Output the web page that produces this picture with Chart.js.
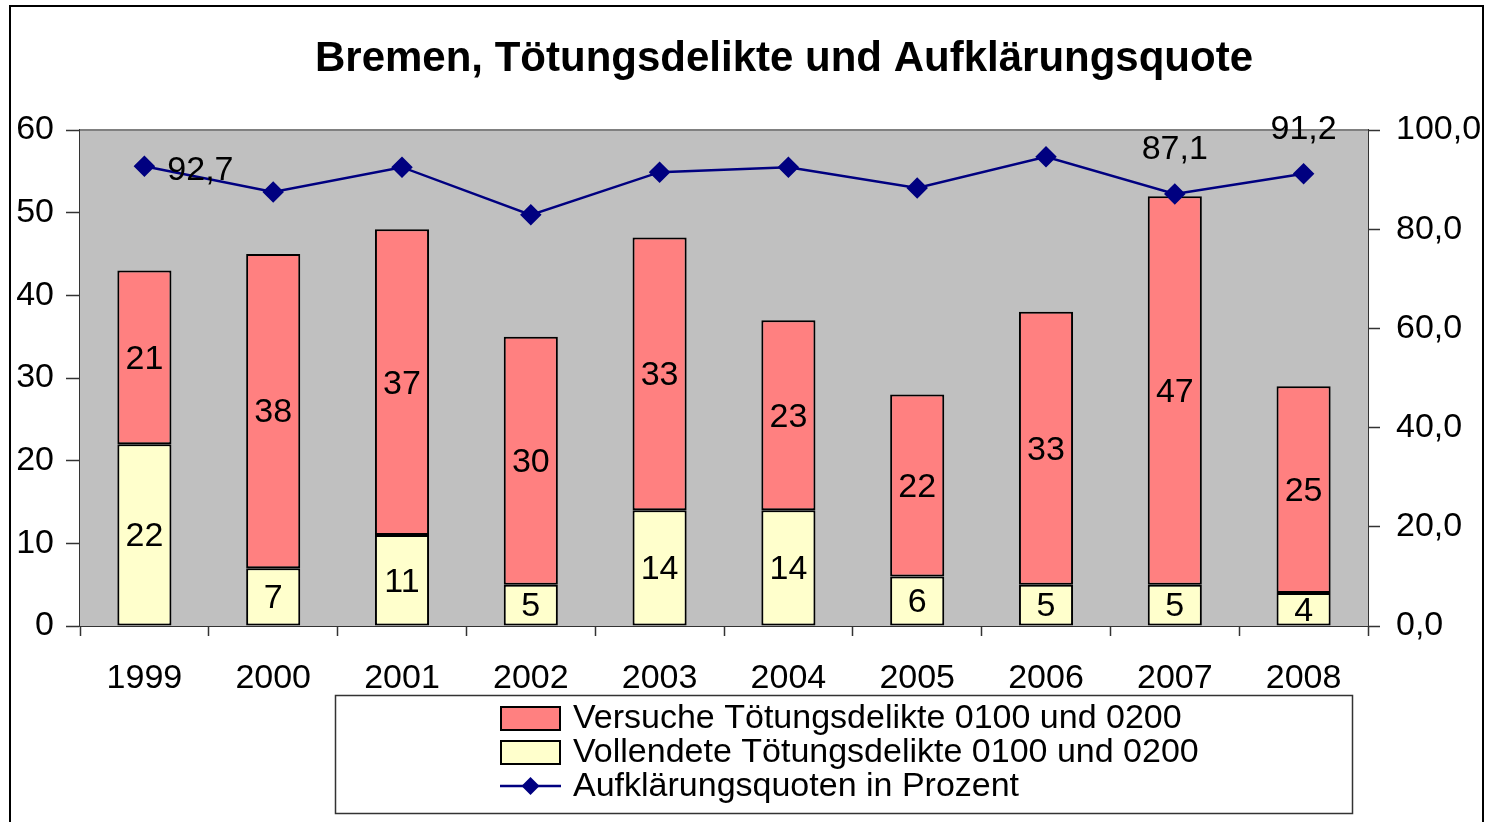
<!DOCTYPE html>
<html>
<head>
<meta charset="utf-8">
<title>Bremen, Tötungsdelikte und Aufklärungsquote</title>
<script src="https://cdn.jsdelivr.net/npm/chart.js@4.4.0/dist/chart.umd.min.js"></script>
<style>
  html, body { margin: 0; padding: 0; background: #fff; }
  #wrap { width: 1490px; height: 822px; }
</style>
</head>
<body>
<div id="wrap"><canvas id="myChart" width="1490" height="822"></canvas></div>
<script>
// Bremen: homicide cases (stacked bars) and clearance rate (line, right axis)

const years = ['1999', '2000', '2001', '2002', '2003', '2004', '2005', '2006', '2007', '2008'];
const vollendete = [22, 7, 11, 5, 14, 14, 6, 5, 5, 4];          // completed
const versuche = [21, 38, 37, 30, 33, 23, 22, 33, 47, 25];      // attempted
const quote = [92.7, 87.5, 92.5, 82.9, 91.5, 92.5, 88.3, 94.6, 87.1, 91.2];
const quoteLabels = ['92,7', '', '', '', '', '', '', '', '87,1', '91,2'];

const FONT = '"Liberation Sans", Arial, sans-serif';

function deComma(v, digits) {
    return v.toFixed(digits).replace('.', ',');
}

// draws grey plot area, frame, title, labels and legend box
const decorations = {
    id: 'decorations',
    beforeDatasetsDraw(chart) {
        const { ctx, chartArea: a } = chart;
        ctx.save();
        ctx.fillStyle = '#C0C0C0';
        ctx.fillRect(a.left, a.top, a.right - a.left, a.bottom - a.top);
        ctx.strokeStyle = '#808080';
        ctx.lineWidth = 2;
        ctx.beginPath();
        ctx.moveTo(a.left, a.top);
        ctx.lineTo(a.right, a.top);
        ctx.stroke();
        ctx.restore();
    },
    afterDraw(chart) {
        const { ctx } = chart;
        ctx.save();

        // outer frame
        ctx.strokeStyle = '#000';
        ctx.lineWidth = 2;
        ctx.beginPath();
        ctx.moveTo(10, 830);
        ctx.lineTo(10, 6);
        ctx.lineTo(1483, 6);
        ctx.lineTo(1483, 830);
        ctx.stroke();

        // title
        ctx.fillStyle = '#000';
        ctx.font = 'bold 42px ' + FONT;
        ctx.textAlign = 'center';
        ctx.textBaseline = 'middle';
        ctx.fillText('Bremen, Tötungsdelikte und Aufklärungsquote', 784, 59);

        // value labels in the bar segments
        ctx.font = '34px ' + FONT;
        [0, 1].forEach(di => {
            const meta = chart.getDatasetMeta(di);
            meta.data.forEach((bar, i) => {
                const mid = (bar.y + bar.base) / 2;
                ctx.fillText(String(chart.data.datasets[di].data[i]), bar.x, mid + 2);
            });
        });

        // selected labels on the line
        const lineMeta = chart.getDatasetMeta(2);
        lineMeta.data.forEach((pt, i) => {
            if (!quoteLabels[i]) return;
            if (i === 0) {
                ctx.fillText(quoteLabels[i], pt.x + 56, pt.y + 4);
            } else {
                ctx.fillText(quoteLabels[i], pt.x, pt.y - 44);
            }
        });

        // legend box
        ctx.strokeStyle = '#333';
        ctx.lineWidth = 1.5;
        ctx.strokeRect(335.5, 695.5, 1017, 118);
        ctx.font = '34px ' + FONT;
        ctx.textAlign = 'left';
        const rows = [718, 752, 786];
        chart.data.datasets.forEach((ds, i) => {
            const y = rows[i];
            if (ds.type === 'line') {
                ctx.strokeStyle = ds.borderColor;
                ctx.lineWidth = 2.5;
                ctx.beginPath();
                ctx.moveTo(500, y);
                ctx.lineTo(561, y);
                ctx.stroke();
                ctx.fillStyle = ds.borderColor;
                ctx.beginPath();
                ctx.moveTo(530.5, y - 9);
                ctx.lineTo(539.5, y);
                ctx.lineTo(530.5, y + 9);
                ctx.lineTo(521.5, y);
                ctx.closePath();
                ctx.fill();
            } else {
                ctx.fillStyle = ds.backgroundColor;
                ctx.fillRect(501, y - 11, 59, 23);
                ctx.strokeStyle = '#000';
                ctx.lineWidth = 2;
                ctx.strokeRect(501, y - 11, 59, 23);
            }
            ctx.fillStyle = '#000';
            ctx.fillText(ds.label, 573, y + 1);
        });
        ctx.restore();
    }
};

const ctx = document.getElementById('myChart');
const myChart = new Chart(ctx, {
    data: {
        labels: years,
        datasets: [{
            type: 'bar',
            label: 'Versuche Tötungsdelikte 0100 und 0200',
            data: versuche,
            backgroundColor: '#FF8080',
            borderColor: '#000',
            borderWidth: 2,
            borderSkipped: false,
            barPercentage: 0.42,
            categoryPercentage: 1,
            stack: 'faelle',
            order: 2
        },
        {
            type: 'bar',
            label: 'Vollendete Tötungsdelikte 0100 und 0200',
            data: vollendete,
            backgroundColor: '#FFFFCC',
            borderColor: '#000',
            borderWidth: 2,
            borderSkipped: false,
            barPercentage: 0.42,
            categoryPercentage: 1,
            stack: 'faelle',
            order: 1
        },
        {
            type: 'line',
            label: 'Aufklärungsquoten in Prozent',
            data: quote,
            yAxisID: 'y1',
            borderColor: '#000080',
            backgroundColor: '#000080',
            borderWidth: 2.5,
            pointStyle: 'rectRot',
            pointRadius: 9,
            pointHoverRadius: 9,
            tension: 0,
            order: 0
        }]
    },
    options: {
        responsive: false,
        animation: false,
        layout: { padding: { left: 0, right: 0, top: 130, bottom: 126 } },
        scales: {
            x: {
                stacked: true,
                grid: { drawOnChartArea: false, color: '#333', tickLength: 10, tickWidth: 1.5 },
                border: { color: '#333', width: 2 },
                ticks: { color: '#000', font: { family: FONT, size: 34 }, padding: 22, maxRotation: 0 },
                afterFit(scale) { scale.height = 70; }
            },
            y: {
                stacked: true,
                min: 0,
                max: 60,
                ticks: { stepSize: 10, color: '#000', font: { family: FONT, size: 34 }, padding: 12 },
                grid: { drawOnChartArea: false, color: '#333', tickLength: 14, tickWidth: 1.5 },
                border: { color: '#333', width: 2 },
                afterFit(scale) { scale.width = 80; }
            },
            y1: {
                position: 'right',
                min: 0,
                max: 100,
                ticks: {
                    stepSize: 20,
                    color: '#000',
                    font: { family: FONT, size: 34 },
                    padding: 16,
                    callback: v => deComma(v, 1)
                },
                grid: { drawOnChartArea: false, color: '#333', tickLength: 12, tickWidth: 1.5 },
                border: { color: '#333', width: 2 },
                afterFit(scale) { scale.width = 122; }
            }
        },
        plugins: {
            legend: { display: false },
            title: { display: false },
            tooltip: { enabled: false }
        }
    },
    plugins: [decorations]
});
</script>
</body>
</html>
